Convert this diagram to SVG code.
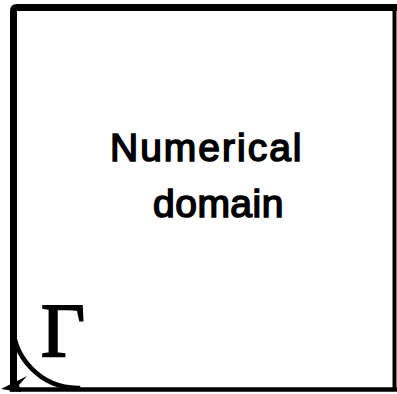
<svg xmlns="http://www.w3.org/2000/svg" width="397" height="394" viewBox="0 0 397 394">
<style>
.edge{fill:none;stroke:#000;stroke-linecap:square;stroke-linejoin:round}
.lbl{font-family:"Liberation Sans",Arial,sans-serif;font-size:39px;fill:#000;stroke:#000;stroke-width:1.6}
</style>
<rect width="397" height="394" fill="#fff"/>
<g id="domain">
<path class="edge" d="M13.5,388 L13.5,11 Q13.5,7.5 17,7.5 L394,7.5" stroke-width="7"/>
<path class="edge" d="M394.5,7 L394.5,389" stroke-width="4"/>
<path class="edge" d="M12,389.5 L395,389.5" stroke-width="4.5"/>
<text class="lbl" x="110" y="161" letter-spacing="2">Numerical</text>
<text class="lbl" x="153" y="217" letter-spacing="0.5">domain</text>
</g>
<g id="boundary">
<path class="edge" d="M13,320 A65,65 0 0 0 78,388" stroke-width="4.5"/>
<polygon points="1,389 27,376 19,385 21,392" fill="#000"/>
<text x="41" y="356" font-family="'Liberation Serif','Times New Roman',serif" font-size="76" fill="#000" stroke="#000" stroke-width="2">Γ</text>
</g>
</svg>
